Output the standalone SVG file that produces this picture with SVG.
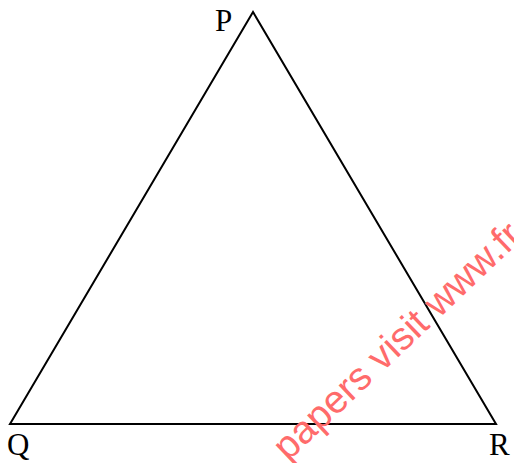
<svg xmlns="http://www.w3.org/2000/svg" width="514" height="463" viewBox="0 0 514 463">
<style>
.lbl{font-family:"Liberation Serif","DejaVu Serif",serif;font-size:31px;fill:#000}
.edge{fill:none;stroke:#000;stroke-width:2;stroke-linejoin:miter}
.wm{font-family:"Liberation Sans",Arial,sans-serif;font-size:39px;fill:#ff6b6b}
</style>
<rect width="514" height="463" fill="#fff"/>
<g id="connectors">
<polygon class="edge" points="253,12 10,424 496,424"/>
</g>
<g id="P"><text class="lbl" x="215" y="31">P</text></g>
<g id="Q"><text class="lbl" x="7" y="455">Q</text></g>
<g id="R"><text class="lbl" x="489" y="455">R</text></g>
<text class="wm" transform="translate(288,462) rotate(-43.5)">papers visit www.fr</text>
</svg>
